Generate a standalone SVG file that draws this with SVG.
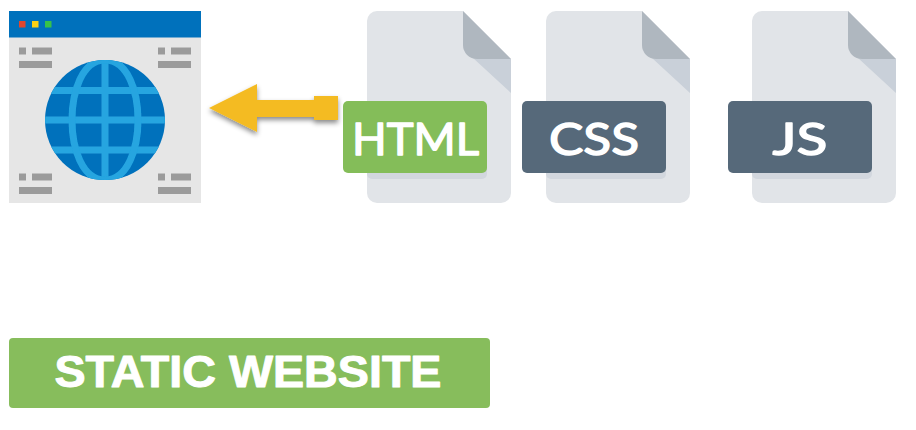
<svg xmlns="http://www.w3.org/2000/svg" xmlns:xlink="http://www.w3.org/1999/xlink" width="916" height="430" viewBox="0 0 916 430">
<style>
.bar{fill:#9b9b9b}
.sheet{fill:#e1e4e8}
.fold{fill:#afb7bf}
.crease{fill:#c9d0d9}
.under{fill:#d2d7de}
.lbl{fill:#fff;stroke:#fff;stroke-width:1.4;stroke-linejoin:round;stroke-linecap:round;font-family:Lato,"Open Sans",sans-serif;font-weight:400;font-size:44px;text-anchor:middle}
.grid{fill:none;stroke:#25a5e0;stroke-width:7}
</style>
<defs>
<filter id="sh" x="-20%" y="-40%" width="140%" height="190%"><feDropShadow dx="0" dy="3" stdDeviation="2.5" flood-color="#000" flood-opacity="0.45"/></filter>
<filter id="soft" x="-2%" y="-2%" width="104%" height="104%"><feGaussianBlur stdDeviation="0.45"/></filter>
<clipPath id="gc"><circle cx="105" cy="120" r="60"/></clipPath>
<g id="bars"><rect x="0" y="0" width="7" height="7" class="bar"/><rect x="13" y="0" width="20" height="7" class="bar"/><rect x="0" y="13.500" width="33" height="7" class="bar"/></g>
<path id="file" d="M10 0H96L144 48V182a10 10 0 0 1-10 10H10a10 10 0 0 1-10-10V10A10 10 0 0 1 10 0Z" class="sheet"/>
<path id="foldp" d="M96 0L144 48H110a14 14 0 0 1-14-14Z" class="fold"/>
<path id="creasep" d="M110 48H144V82L106 47Z" class="crease"/>
</defs>
<rect width="916" height="430" fill="#fff"/>
<g id="browser" filter="url(#soft)">
<rect x="9" y="11" width="192" height="192" fill="#e6e6e6"/>
<rect x="9" y="11" width="192" height="26.500" fill="#0071bc"/>
<rect x="19" y="21" width="6.500" height="6.500" fill="#e2472f"/>
<rect x="32" y="21" width="6.500" height="6.500" fill="#fbd117"/>
<rect x="45" y="21" width="6.500" height="6.500" fill="#37c24a"/>
<use xlink:href="#bars" x="19" y="47.500"/>
<use xlink:href="#bars" x="158" y="47.500"/>
<use xlink:href="#bars" x="19" y="173.500"/>
<use xlink:href="#bars" x="158" y="173.500"/>
<circle cx="105" cy="120" r="60" fill="#0071bc"/>
<g clip-path="url(#gc)" class="grid">
<path d="M105 60V180M45 120H165M45 90.500H165M45 150H165"/>
<path d="M105 60C82 60 72 92 72 120C72 148 82 180 105 180C128 180 138 148 138 120C138 92 128 60 105 60Z"/>
</g>
</g>
<g id="connectors">
<path d="M209 108L257 84V100H314V96H338V120H314V117H257V132Z" fill="#f4bb21" filter="url(#sh)"/>
</g>
<g id="html-file">
<use xlink:href="#file" x="367" y="11"/><use xlink:href="#creasep" x="367" y="11"/><use xlink:href="#foldp" x="367" y="11"/>
<rect x="367" y="110" width="120" height="69" rx="5" class="under"/>
<rect x="343" y="101" width="144" height="72" rx="5" fill="#84bd59"/>
<text x="415.500" y="154.500" class="lbl" textLength="127" lengthAdjust="spacingAndGlyphs">HTML</text>
</g>
<g id="css-file">
<use xlink:href="#file" x="546" y="11"/><use xlink:href="#creasep" x="546" y="11"/><use xlink:href="#foldp" x="546" y="11"/>
<rect x="546" y="110" width="120" height="69" rx="5" class="under"/>
<rect x="522" y="101" width="144" height="72" rx="5" fill="#56697a"/>
<text x="594" y="154.500" class="lbl" textLength="90" lengthAdjust="spacingAndGlyphs">CSS</text>
</g>
<g id="js-file">
<use xlink:href="#file" x="752" y="11"/><use xlink:href="#creasep" x="752" y="11"/><use xlink:href="#foldp" x="752" y="11"/>
<rect x="752" y="110" width="120" height="69" rx="5" class="under"/>
<rect x="728" y="101" width="144" height="72" rx="5" fill="#56697a"/>
<text x="800" y="154.500" class="lbl" textLength="55" lengthAdjust="spacingAndGlyphs">JS</text>
</g>
<g id="static-website">
<rect x="9" y="338" width="481" height="70" rx="4" fill="#87bd5c"/>
<text x="248" y="387" fill="#fff" stroke="#fff" stroke-width="1" stroke-linejoin="round" font-family="'Liberation Sans',Arial,sans-serif" font-weight="700" font-size="44px" text-anchor="middle" textLength="387" lengthAdjust="spacingAndGlyphs">STATIC WEBSITE</text>
</g>
</svg>
